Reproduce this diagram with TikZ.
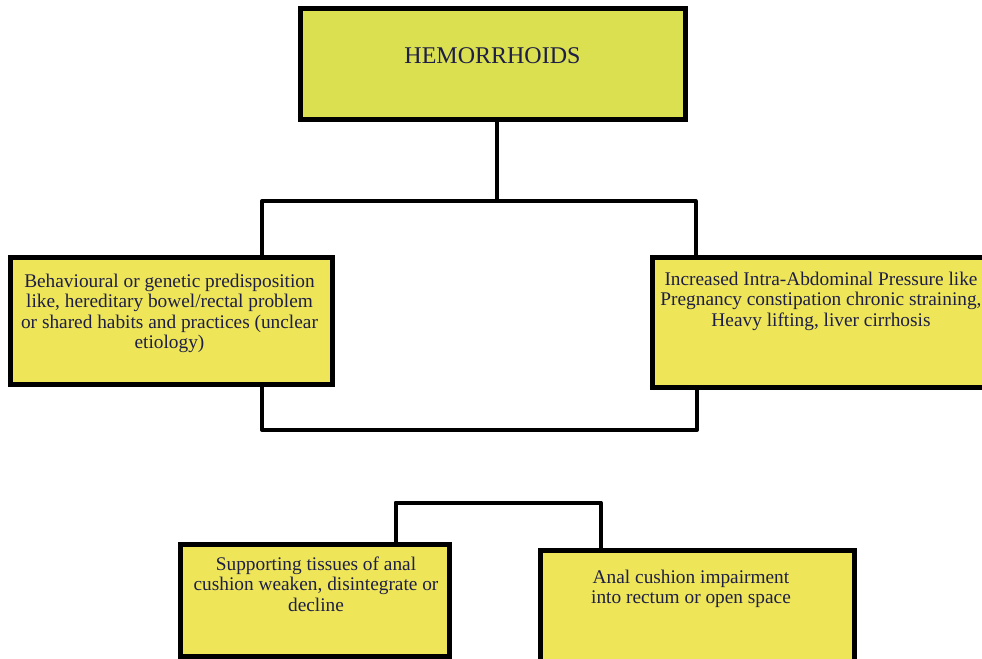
\documentclass[tikz,border=0pt]{standalone}
\usepackage{fontspec}
\setmainfont{Liberation Serif}
\definecolor{topc}{RGB}{218,224,80}
\definecolor{boxc}{RGB}{238,230,88}
\definecolor{txtc}{RGB}{30,30,70}
\begin{document}
\begin{tikzpicture}[x=0.75pt,y=-0.75pt,
  box/.style={draw=black, line width=3.75pt, inner sep=0pt, anchor=center, fill=boxc},
  txt/.style={text=txtc, align=center, inner sep=0pt, anchor=north, font=\fontsize{14.5}{15.2}\selectfont},
  conn/.style={draw=black, line width=3pt, line join=round}]
\fill[white] (0,0) rectangle (982,659);
\useasboundingbox (0,0) rectangle (982,659);
% boxes
\node[box, fill=topc, minimum width=288.75pt, minimum height=82.9pt] (top) at (492.5,64.25) {};
\node[box, minimum width=241.5pt, minimum height=95.25pt] (left) at (171.5,321) {};
\node[box, minimum width=256.9pt, minimum height=97.5pt] (right) at (823.75,322.5) {};
\node[box, minimum width=202.1pt, minimum height=84pt] (sl) at (314.75,600.5) {};
\node[box, minimum width=235.5pt, minimum height=89.6pt] (sr) at (697.5,610.25) {};
% texts
\node[text=txtc, inner sep=0pt, anchor=base, font=\fontsize{18}{20}\selectfont] (ttop) at (492.5,63.3) {HEMORRHOIDS};
\node[txt] (tleft) at (169.5,273.8) {Behavioural or genetic predisposition\\like, hereditary bowel/rectal problem\\or shared habits and practices (unclear\\etiology)};
\node[txt] (tright) at (821,271.8) {Increased Intra-Abdominal Pressure like\\Pregnancy constipation chronic straining,\\Heavy lifting, liver cirrhosis};
\node[txt] (tsl) at (316,556.8) {Supporting tissues of anal\\cushion weaken, disintegrate or\\decline};
\node[txt] (tsr) at (691,569.8) {Anal cushion impairment\\into rectum or open space};
% connectors
\coordinate (c1) at (497,201);
\coordinate (hl) at (262,201);
\coordinate (hr) at (695.5,201);
\coordinate (bl) at (262,430);
\coordinate (br) at (697,430);
\coordinate (ul) at (395.5,502.5);
\coordinate (ur) at (600.5,502.5);
\draw[conn] (c1 |- top.south) -- (c1);
\draw[conn] (hl |- left.north) -- (hl) -- (hr) -- (hr |- right.north);
\draw[conn] (bl |- left.south) -- (bl) -- (br) -- (br |- right.south);
\draw[conn] (ul |- sl.north) -- (ul) -- (ur) -- (ur |- sr.north);
\end{tikzpicture}
\end{document}
